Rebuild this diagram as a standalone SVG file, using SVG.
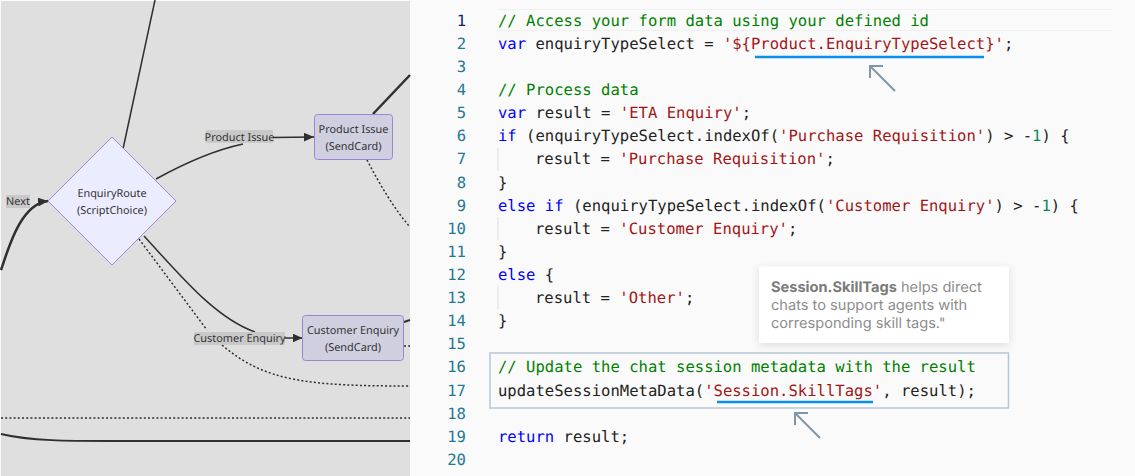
<svg xmlns="http://www.w3.org/2000/svg" width="1135" height="476" viewBox="0 0 1135 476">
<style>
text{text-rendering:geometricPrecision}
.node{fill:#d0cfe0;stroke:#9b86d6;stroke-width:1}
.nt{font:10.9px "Noto Sans",sans-serif;fill:#333;text-anchor:middle}
.lb{fill:#c9c9c9}
.e{fill:none;stroke:#2f2f2f}
.d{stroke-dasharray:2 2.2;stroke-width:1.5}
.c{font:15.57px "DejaVu Sans Mono",monospace;fill:#222;white-space:pre}
.n{font:15.57px "DejaVu Sans Mono",monospace;fill:#237893;text-anchor:end}
.g{fill:#008000}.k{fill:#0000ff}.s{fill:#a31515}.o{fill:#098658}
.cn{font:14.6px Inter,sans-serif;fill:#8c8c8c}
.u{stroke:#0a8fe8;stroke-width:2.5;fill:none}
.a{stroke:#7f97ab;stroke-width:2;fill:none}
</style>
<defs>
<marker id="ah" markerUnits="userSpaceOnUse" markerWidth="12" markerHeight="10" refX="10" refY="4.5" orient="auto"><path d="M0,0L10,4.5L0,9z" fill="#2f2f2f"/></marker>
<filter id="sh" x="-10%" y="-20%" width="120%" height="140%"><feDropShadow dx="0" dy="2" stdDeviation="4" flood-color="#000" flood-opacity=".12"/></filter>
</defs>
<rect width="1135" height="476" fill="#fafafa"/>
<rect x="1" y="1" width="409" height="475" fill="#dfdfdf"/>
<g id="connectors">
<path class="e" stroke-width="1.5" d="M123,149L155,0"/>
<path class="e" stroke-width="1.5" d="M156,179C185,163 215,150 243,144"/>
<path class="e" stroke-width="1.5" marker-end="url(#ah)" d="M273,137.5L314,137"/>
<path class="e" stroke-width="2.5" marker-end="url(#ah)" d="M1,270C8,250 20,204 48,201"/>
<path class="e" stroke-width="2.5" d="M373,114L410,75"/>
<path class="e d" d="M367,160C380,185 395,210 410,227"/>
<path class="e" stroke-width="1.5" d="M144,236C180,275 215,318 255,332"/>
<path class="e d" d="M139,239L207,330"/>
<path class="e d" d="M222,345C265,382 310,386 410,386"/>
<path class="e" stroke-width="1.5" marker-end="url(#ah)" d="M285,338L302.500,338"/>
<path class="e" stroke-width="2" d="M404,322L410,320"/>
<path class="e d" d="M404,346L410,346"/>
<path class="e d" d="M1,418L410,418"/>
<path class="e" stroke-width="2" d="M1,434C30,441 70,441 110,441L410,441"/>
</g>
<g id="label-next"><rect class="lb" x="6" y="195" width="24" height="13"/><text class="nt" x="18" y="205">Next</text></g>
<g id="label-product"><rect class="lb" x="206" y="130" width="67" height="13"/><text class="nt" x="239.500" y="141">Product Issue</text></g>
<g id="label-customer"><rect class="lb" x="194" y="332" width="91" height="13"/><text class="nt" x="239.500" y="342">Customer Enquiry</text></g>
<g id="node-enquiry-route"><path d="M112,137L176,201L112,265L48,201z" fill="#ececff" stroke="#9b86d6"/><text class="nt" x="112" y="197">EnquiryRoute</text><text class="nt" x="112" y="214">(ScriptChoice)</text></g>
<g id="node-product-issue"><rect class="node" x="314.500" y="114.500" width="78" height="45" rx="3"/><text class="nt" x="353.500" y="133">Product Issue</text><text class="nt" x="353.500" y="150">(SendCard)</text></g>
<g id="node-customer-enquiry"><rect class="node" x="302.500" y="315.500" width="101" height="45" rx="3"/><text class="nt" x="353" y="334">Customer Enquiry</text><text class="nt" x="353" y="351">(SendCard)</text></g>
<g id="code">
<path d="M498,9.500H1111M498,30.500H1111" stroke="#f0f0f0" fill="none"/>
<path d="M498,148V171M498,217V240M498,286V309" stroke="#dcdcdc" fill="none"/>
<text class="n" x="466" y="26" style="fill:#0b216f">1</text>
<text class="n" x="466" y="49">2</text><text class="n" x="466" y="72">3</text><text class="n" x="466" y="95">4</text><text class="n" x="466" y="118">5</text><text class="n" x="466" y="141">6</text><text class="n" x="466" y="164">7</text><text class="n" x="466" y="188">8</text><text class="n" x="466" y="211">9</text><text class="n" x="466" y="234">10</text><text class="n" x="466" y="257">11</text><text class="n" x="466" y="280">12</text><text class="n" x="466" y="303">13</text><text class="n" x="466" y="326">14</text><text class="n" x="466" y="349">15</text><text class="n" x="466" y="372">16</text><text class="n" x="466" y="396">17</text><text class="n" x="466" y="419">18</text><text class="n" x="466" y="442">19</text><text class="n" x="466" y="465">20</text>
<text class="c g" x="498" y="26">// Access your form data using your defined id</text>
<text class="c" x="498" y="49"><tspan class="k">var</tspan> enquiryTypeSelect = <tspan class="s">'${Product.EnquiryTypeSelect}'</tspan>;</text>
<text class="c g" x="498" y="95">// Process data</text>
<text class="c" x="498" y="118"><tspan class="k">var</tspan> result = <tspan class="s">'ETA Enquiry'</tspan>;</text>
<text class="c" x="498" y="141"><tspan class="k">if</tspan> (enquiryTypeSelect.indexOf(<tspan class="s">'Purchase Requisition'</tspan>) &gt; -<tspan class="o">1</tspan>) {</text>
<text class="c" x="535" y="164">result = <tspan class="s">'Purchase Requisition'</tspan>;</text>
<text class="c" x="498" y="188">}</text>
<text class="c" x="498" y="211"><tspan class="k">else if</tspan> (enquiryTypeSelect.indexOf(<tspan class="s">'Customer Enquiry'</tspan>) &gt; -<tspan class="o">1</tspan>) {</text>
<text class="c" x="535" y="234">result = <tspan class="s">'Customer Enquiry'</tspan>;</text>
<text class="c" x="498" y="257">}</text>
<text class="c" x="498" y="280"><tspan class="k">else</tspan> {</text>
<text class="c" x="535" y="303">result = <tspan class="s">'Other'</tspan>;</text>
<text class="c" x="498" y="326">}</text>
<text class="c g" x="498" y="372">// Update the chat session metadata with the result</text>
<text class="c" x="498" y="396">updateSessionMetaData(<tspan class="s">'Session.SkillTags'</tspan>, result);</text>
<text class="c" x="498" y="442"><tspan class="k">return</tspan> result;</text>
</g>
<g id="annotations">
<path class="u" d="M755,57H984"/>
<path class="a" d="M895,91L870,66M870,78V66H883"/>
<rect x="490" y="353" width="518.500" height="55" fill="none" stroke="#b7c7d6" stroke-width="1.500"/>
<path class="u" d="M717,402H873"/>
<path class="a" d="M820,438L795,413M795,425V413H808"/>
</g>
<g id="callout">
<rect x="759" y="266.500" width="250" height="76.500" fill="#fff" filter="url(#sh)"/>
<text class="cn" x="771" y="292"><tspan font-weight="700" fill="#7a7a7a">Session.SkillTags</tspan> helps direct</text>
<text class="cn" x="771" y="310">chats to support agents with</text>
<text class="cn" x="771" y="328">corresponding skill tags."</text>
</g>
</svg>
